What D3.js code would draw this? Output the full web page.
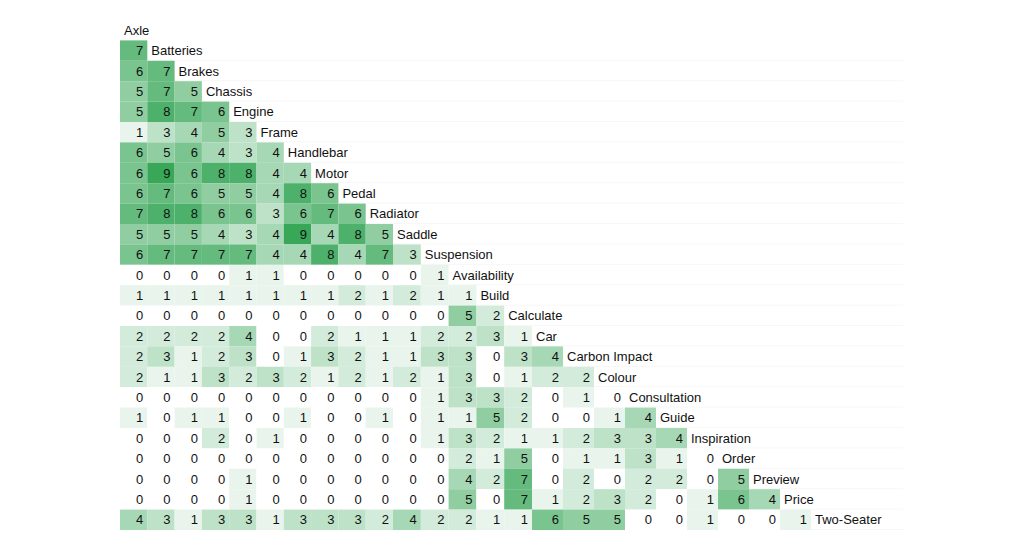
<!DOCTYPE html>
<html>
<head>
<meta charset="utf-8">
<script src="https://cdn.jsdelivr.net/npm/d3@7"></script>
<style>
  body { margin: 0; background: #fff; }
  svg text { font-family: "Liberation Sans", Arial, sans-serif; font-size: 13px; fill: #111; }
</style>
</head>
<body>
<svg id="chart"></svg>
<script>
const labels = ["Axle", "Batteries", "Brakes", "Chassis", "Engine", "Frame", "Handlebar", "Motor",
    "Pedal", "Radiator", "Saddle", "Suspension", "Availability", "Build", "Calculate", "Car",
    "Carbon Impact", "Colour", "Consultation", "Guide", "Inspiration", "Order", "Preview", "Price",
    "Two-Seater"]

// lower triangle, row i holds the values against columns 0..i-1
const values = [
    [],
    [7],
    [6, 7],
    [5, 7, 5],
    [5, 8, 7, 6],
    [1, 3, 4, 5, 3],
    [6, 5, 6, 4, 3, 4],
    [6, 9, 6, 8, 8, 4, 4],
    [6, 7, 6, 5, 5, 4, 8, 6],
    [7, 8, 8, 6, 6, 3, 6, 7, 6],
    [5, 5, 5, 4, 3, 4, 9, 4, 8, 5],
    [6, 7, 7, 7, 7, 4, 4, 8, 4, 7, 3],
    [0, 0, 0, 0, 1, 1, 0, 0, 0, 0, 0, 1],
    [1, 1, 1, 1, 1, 1, 1, 1, 2, 1, 2, 1, 1],
    [0, 0, 0, 0, 0, 0, 0, 0, 0, 0, 0, 0, 5, 2],
    [2, 2, 2, 2, 4, 0, 0, 2, 1, 1, 1, 2, 2, 3, 1],
    [2, 3, 1, 2, 3, 0, 1, 3, 2, 1, 1, 3, 3, 0, 3, 4],
    [2, 1, 1, 3, 2, 3, 2, 1, 2, 1, 2, 1, 3, 0, 1, 2, 2],
    [0, 0, 0, 0, 0, 0, 0, 0, 0, 0, 0, 1, 3, 3, 2, 0, 1, 0],
    [1, 0, 1, 1, 0, 0, 1, 0, 0, 1, 0, 1, 1, 5, 2, 0, 0, 1, 4],
    [0, 0, 0, 2, 0, 1, 0, 0, 0, 0, 0, 1, 3, 2, 1, 1, 2, 3, 3, 4],
    [0, 0, 0, 0, 0, 0, 0, 0, 0, 0, 0, 0, 2, 1, 5, 0, 1, 1, 3, 1, 0],
    [0, 0, 0, 0, 1, 0, 0, 0, 0, 0, 0, 0, 4, 2, 7, 0, 2, 0, 2, 2, 0, 5],
    [0, 0, 0, 0, 1, 0, 0, 0, 0, 0, 0, 0, 5, 0, 7, 1, 2, 3, 2, 0, 1, 6, 4],
    [4, 3, 1, 3, 3, 1, 3, 3, 3, 2, 4, 2, 2, 1, 1, 6, 5, 5, 0, 0, 1, 0, 0, 1]
]

const width = 1024
const height = 553

const svg = d3.select('#chart')
    .attr('width', width)
    .attr('height', height)

// table columns get a little wider to the right
const x = d3.scaleLinear()
    .domain([0, 10, 15, 24])
    .range([120, 393, 532, 811])

const y = d3.scaleBand()
    .domain(d3.range(labels.length))
    .range([20, 530])

const color = d3.scaleLinear()
    .domain([0, 9])
    .range(["#ffffff", "#38a758"])

const tableRight = 903

// faint row borders
svg.append('g')
    .selectAll('line')
    .data(d3.range(1, labels.length))
    .join('line')
    .attr('x1', x(0))
    .attr('x2', tableRight)
    .attr('y1', d => y(d) + y.bandwidth() - 0.5)
    .attr('y2', d => y(d) + y.bandwidth() - 0.5)
    .attr('stroke', '#f7f7f7')
    .attr('stroke-width', 1)

const cells = []
values.forEach((row, i) => {
    row.forEach((v, j) => cells.push({ row: i, col: j, value: v }))
})

const cell = svg.append('g').attr('class', 'cells')
    .selectAll('g')
    .data(cells)
    .join('g')

cell.append('rect')
    .attr('x', d => x(d.col))
    .attr('y', d => y(d.row))
    .attr('width', d => x(d.col + 1) - x(d.col))
    .attr('height', y.bandwidth())
    .attr('fill', d => color(d.value))

cell.append('text')
    .attr('x', d => x(d.col + 1) - 4)
    .attr('y', d => y(d.row) + y.bandwidth() / 2)
    .attr('dy', '0.36em')
    .attr('text-anchor', 'end')
    .text(d => d.value)

// diagonal labels
svg.append('g').attr('class', 'labels')
    .selectAll('text')
    .data(labels)
    .join('text')
    .attr('x', (d, i) => x(i) + 4)
    .attr('y', (d, i) => y(i) + y.bandwidth() / 2)
    .attr('dy', '0.36em')
    .text(d => d)
</script>
</body>
</html>
